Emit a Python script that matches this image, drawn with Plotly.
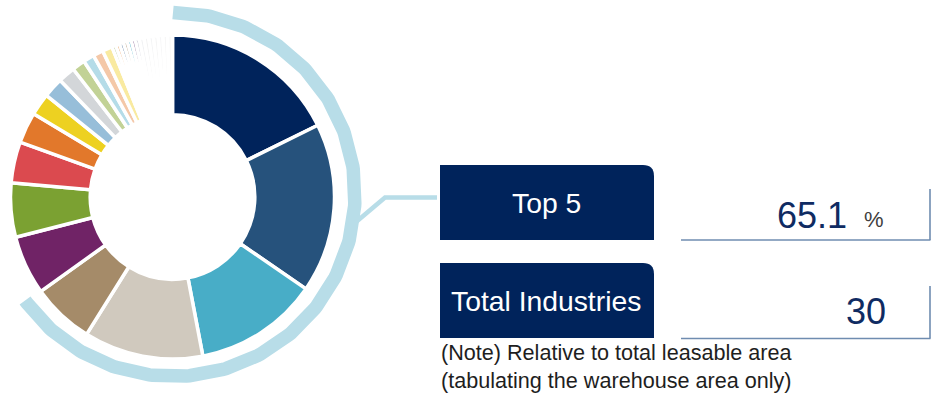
import math
import plotly.graph_objects as go

# Share of leasable warehouse area by tenant industry (%), largest first
industries = [f"Industry {i}" for i in range(1, 31)]
shares = [17.7, 16.9, 12.4, 11.9, 6.2, 5.9, 5.4, 4.1, 3.1, 2.2, 2.0, 1.7,
          1.3, 1.1, 1.0, 1.0,
          0.4, 0.4, 0.4, 0.4, 0.4, 0.4, 0.4,
          0.47, 0.47, 0.47, 0.47, 0.47, 0.47, 0.48]
slice_colors = ["#00235B", "#26527C", "#48ADC7", "#D0C9BE", "#A58B69",
                "#702366", "#7BA132", "#DB4A4F", "#E2782B", "#EDD121",
                "#97BED9", "#D3D6D9", "#C2D296", "#B5DCE8", "#F4C8A8",
                "#F9EAA0",
                "#A9BE7A", "#EBA66A", "#3E6591", "#A58B69", "#48ADC7",
                "#8B6796", "#B9B9C9",
                "#F1F2F4", "#F3F3F3", "#F4F5F6", "#F5F5F5", "#F6F6F7",
                "#F7F7F7", "#F8F8F8"]

top_n = 5
top_share = round(sum(shares[:top_n]), 1)
industry_count = len(shares)

W, H = 931, 393
navy = "#00235B"
ring_blue = "#B8DDE8"
rule_blue = "#6F8CB0"

# donut geometry in pixels
cx, cy = 172.5, 197.0
r_outer = 162.0
# the highlight ring sits slightly higher than the donut
ring_cx, ring_cy = 173.0, 194.5
ring_r = 182.0

fig = go.Figure()

fig.add_trace(go.Pie(
    labels=industries,
    values=shares,
    sort=False,
    direction="clockwise",
    rotation=0,
    hole=0.508,
    marker=dict(colors=slice_colors, line=dict(color="white", width=3.5)),
    textinfo="none",
    hoverinfo="label+percent",
    showlegend=False,
    domain=dict(x=[(cx - r_outer) / W, (cx + r_outer) / W],
                y=[(H - cy - r_outer) / H, (H - cy + r_outer) / H]),
))

# outer ring spanning the top-5 share
sweep = 360.0 * top_share / 100.0
n = 240
angles = [sweep * k / n for k in range(n + 1)]
ring_x = [ring_cx + ring_r * math.sin(math.radians(a)) for a in angles]
ring_y = [ring_cy - ring_r * math.cos(math.radians(a)) for a in angles]
fig.add_trace(go.Scatter(x=ring_x, y=ring_y, mode="lines",
                         line=dict(color=ring_blue, width=13.5),
                         hoverinfo="skip", showlegend=False))

# connector from the ring to the Top 5 box
fig.add_trace(go.Scatter(x=[356, 385, 437], y=[222, 197.5, 197.5], mode="lines",
                         line=dict(color=ring_blue, width=4.5),
                         hoverinfo="skip", showlegend=False))

shapes = []


def label_box(x0, y0, x1, y1, r):
    return dict(type="path", xref="x", yref="y",
                path=f"M {x0},{y0} L {x1 - r},{y0} Q {x1},{y0} {x1},{y0 + r} "
                     f"L {x1},{y1} L {x0},{y1} Z",
                fillcolor=navy, line=dict(width=0), layer="above")


shapes.append(label_box(440, 165, 654, 240, 11))
shapes.append(label_box(440, 263, 654, 338, 11))

for y_base, y_top in [(240, 189), (338.5, 286)]:
    shapes.append(dict(type="line", xref="x", yref="y", x0=681, x1=930.5,
                       y0=y_base, y1=y_base, line=dict(color=rule_blue, width=1.6)))
    shapes.append(dict(type="line", xref="x", yref="y", x0=930, x1=930,
                       y0=y_top, y1=y_base, line=dict(color=rule_blue, width=1.6)))

font_family = "Liberation Sans, Arial, sans-serif"
annotations = [
    dict(x=546, y=203, text="Top 5", showarrow=False, xanchor="center", yanchor="middle",
         font=dict(family=font_family, size=28.3, color="white")),
    dict(x=546, y=301, text="Total Industries", showarrow=False, xanchor="center",
         yanchor="middle", font=dict(family=font_family, size=28.3, color="white")),
    dict(x=849, y=215, text=f"{top_share:.1f}", showarrow=False, xanchor="right",
         yanchor="middle", font=dict(family=font_family, size=36, color="#0F2B62")),
    dict(x=862, y=219, text="%", showarrow=False, xanchor="left", yanchor="middle",
         font=dict(family=font_family, size=22, color="#404040")),
    dict(x=866, y=311, text=f"{industry_count}", showarrow=False, xanchor="center",
         yanchor="middle", font=dict(family=font_family, size=36, color="#0F2B62")),
    dict(x=439, y=352, text="(Note) Relative to total leasable area", showarrow=False,
         xanchor="left", yanchor="middle",
         font=dict(family=font_family, size=21.6, color="#1E1E1E")),
    dict(x=439, y=380, text="(tabulating the warehouse area only)", showarrow=False,
         xanchor="left", yanchor="middle",
         font=dict(family=font_family, size=21.6, color="#1E1E1E")),
]

fig.update_layout(
    width=W, height=H,
    margin=dict(l=0, r=0, t=0, b=0),
    paper_bgcolor="white", plot_bgcolor="white",
    xaxis=dict(range=[0, W], visible=False, fixedrange=True, domain=[0, 1]),
    yaxis=dict(range=[H, 0], visible=False, fixedrange=True, domain=[0, 1]),
    shapes=shapes,
    annotations=annotations,
    showlegend=False,
)

fig.write_html("out.html")
